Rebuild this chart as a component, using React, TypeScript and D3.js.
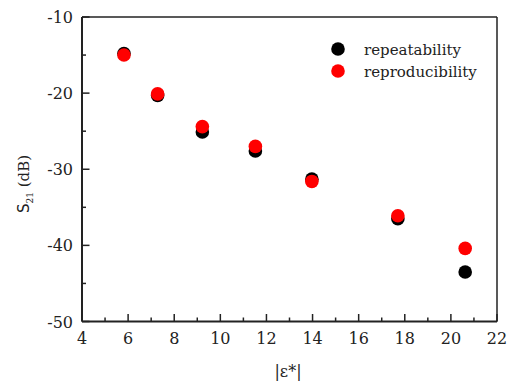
import React from "react";
import * as d3 from "d3";

const epsilon = [5.82, 7.28, 9.22, 11.52, 13.97, 17.7, 20.62];
const repeatability = [-14.8, -20.3, -25.1, -27.6, -31.3, -36.5, -43.5];
const reproducibility = [-15.0, -20.1, -24.4, -27.0, -31.6, -36.1, -40.4];
const xTicks = [4, 6, 8, 10, 12, 14, 16, 18, 20, 22];
const xMinor = [5, 7, 9, 11, 13, 15, 17, 19, 21];
const yTicks = [-10, -20, -30, -40, -50];
const yMinor = [-15, -25, -35, -45];
const seriesNames = ["repeatability", "reproducibility"];
const seriesColors = ["#000000", "#ff0000"];

const W = 507, H = 383;
const L = 82, R = 497, T = 17, B = 321.5;
const font = "'DejaVu Serif', serif";

export default function App() {
  const x = d3.scaleLinear().domain([4, 22]).range([L, R]);
  const y = d3.scaleLinear().domain([-50, -10]).range([B, T]);
  const axisColor = "#222";
  return (
    <svg width={W} height={H} style={{ position: "absolute", left: 0, top: 0 }}>
      <rect x={0} y={0} width={W} height={H} fill="#fff" />
      <line x1={L} y1={T} x2={R} y2={T} stroke={axisColor} strokeWidth={1.5} />
      <line x1={R} y1={T} x2={R} y2={B} stroke={axisColor} strokeWidth={1.5} />
      <line x1={L} y1={T} x2={L} y2={B} stroke={axisColor} strokeWidth={2} />
      <line x1={L} y1={B} x2={R} y2={B} stroke={axisColor} strokeWidth={2} />
      {xTicks.map((t) => (
        <g key={"xt" + t}>
          <line x1={x(t)} x2={x(t)} y1={B} y2={B - 7.5} stroke={axisColor} strokeWidth={1.5} />
          <text x={x(t)} y={344} textAnchor="middle" fontFamily={font} fontSize={16} fill="#222">{t}</text>
        </g>
      ))}
      {xMinor.map((t) => (
        <line key={"xm" + t} x1={x(t)} x2={x(t)} y1={B} y2={B - 4} stroke={axisColor} strokeWidth={1.5} />
      ))}
      {yTicks.map((t) => (
        <g key={"yt" + t}>
          <line x1={L} x2={L + 7.5} y1={y(t)} y2={y(t)} stroke={axisColor} strokeWidth={1.5} />
          <text x={73} y={y(t) + 6} textAnchor="end" fontFamily={font} fontSize={16} fill="#222">{t}</text>
        </g>
      ))}
      {yMinor.map((t) => (
        <line key={"ym" + t} x1={L} x2={L + 4} y1={y(t)} y2={y(t)} stroke={axisColor} strokeWidth={1.5} />
      ))}
      {epsilon.map((e, i) => (
        <circle key={"a" + i} cx={x(e)} cy={y(repeatability[i])} r={6.8} fill={seriesColors[0]} />
      ))}
      {epsilon.map((e, i) => (
        <circle key={"b" + i} cx={x(e)} cy={y(reproducibility[i])} r={6.8} fill={seriesColors[1]} />
      ))}
      {seriesNames.map((n, i) => (
        <g key={n}>
          <circle cx={338} cy={49 + i * 22} r={6.8} fill={seriesColors[i]} />
          <text x={364} y={54.5 + i * 22} fontFamily={font} fontSize={15} fill="#222">{n}</text>
        </g>
      ))}
      <text transform={`translate(29,184) rotate(-90)`} textAnchor="middle" fontFamily={font} fontSize={15} fill="#222">
        <tspan fontFamily="'DejaVu Sans', sans-serif">S</tspan><tspan fontSize={9} dy={4}>21</tspan><tspan dy={-4}> (dB)</tspan>
      </text>
      <text x={288} y={377} textAnchor="middle" fontFamily={font} fontSize={16} fill="#222">|ε*|</text>
    </svg>
  );
}
